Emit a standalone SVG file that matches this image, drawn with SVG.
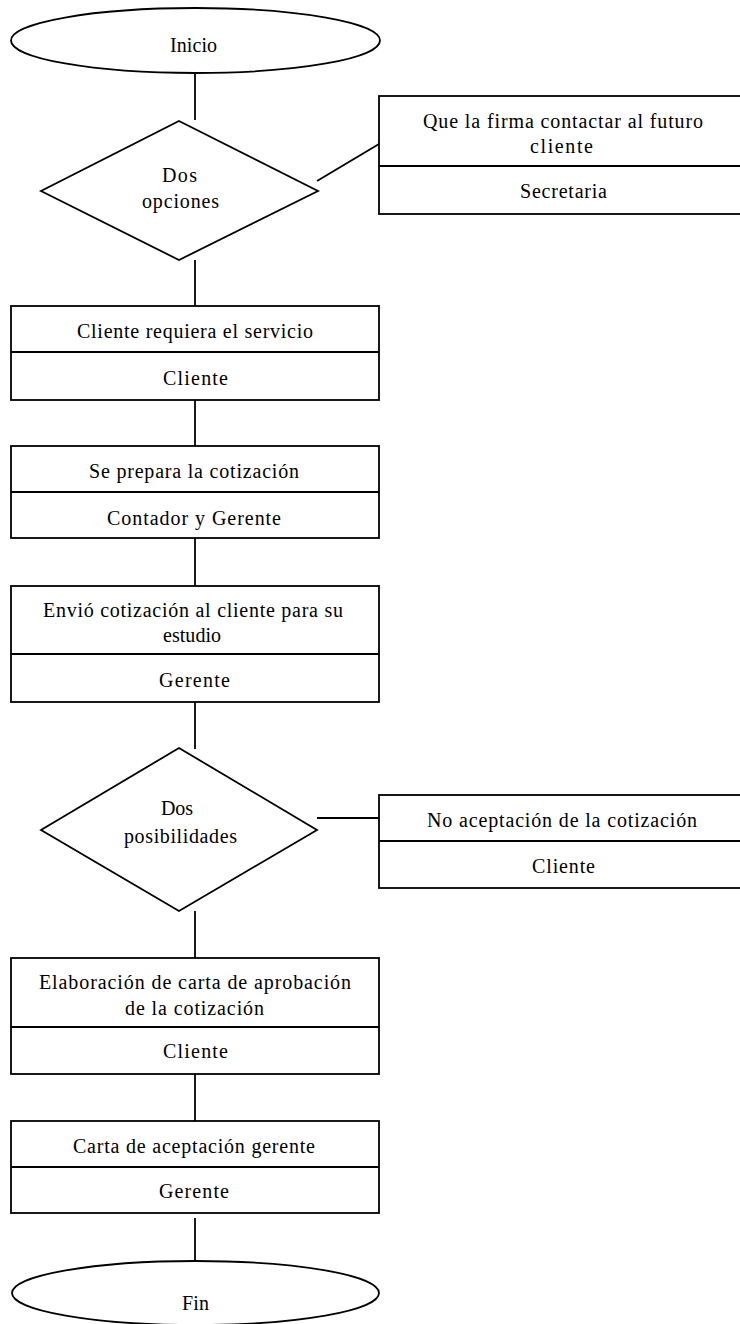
<svg xmlns="http://www.w3.org/2000/svg" width="740" height="1324" viewBox="0 0 740 1324">
<style>
.s{fill:#fff;stroke:#000;stroke-width:1.8}
.l{fill:none;stroke:#000;stroke-width:1.8}
text{font-family:"Liberation Serif","Times New Roman",serif;font-size:20px;fill:#000;text-anchor:middle}
</style>
<rect width="740" height="1324" fill="#fff"/>
<g id="connectors">
<line class="l" x1="195" y1="73" x2="195" y2="120"/>
<line class="l" x1="195" y1="260" x2="195" y2="306"/>
<line class="l" x1="317" y1="181" x2="379" y2="144"/>
<line class="l" x1="195" y1="400" x2="195" y2="446"/>
<line class="l" x1="195" y1="538" x2="195" y2="586"/>
<line class="l" x1="195" y1="702" x2="195" y2="749"/>
<line class="l" x1="317" y1="818" x2="379" y2="818"/>
<line class="l" x1="195" y1="911" x2="195" y2="958"/>
<line class="l" x1="195" y1="1074" x2="195" y2="1125"/>
<line class="l" x1="195" y1="1218" x2="195" y2="1261"/>
</g>
<g id="inicio">
<ellipse class="s" cx="195.5" cy="40.5" rx="184.5" ry="32.5"/>
<text x="193.5" y="52" textLength="47" lengthAdjust="spacing">Inicio</text>
</g>
<g id="decision1">
<polygon class="s" points="179,121 318,191 179,260 41,191"/>
<text x="179.5" y="182" textLength="35" lengthAdjust="spacing">Dos</text>
<text x="180.5" y="208" textLength="77" lengthAdjust="spacing">opciones</text>
</g>
<g id="contactar">
<rect class="s" x="379" y="96" width="400" height="118"/>
<line class="l" x1="379" y1="166" x2="740" y2="166"/>
<text x="563" y="128" textLength="280" lengthAdjust="spacing">Que la firma contactar al futuro</text>
<text x="561.5" y="153" textLength="63" lengthAdjust="spacing">cliente</text>
<text x="563.5" y="198" textLength="87" lengthAdjust="spacing">Secretaria</text>
</g>
<g id="requiere">
<rect class="s" x="11" y="306" width="368" height="94"/>
<line class="l" x1="11" y1="352" x2="379" y2="352"/>
<text x="195" y="338" textLength="236" lengthAdjust="spacing">Cliente requiera el servicio</text>
<text x="195.5" y="385" textLength="65" lengthAdjust="spacing">Cliente</text>
</g>
<g id="prepara">
<rect class="s" x="11" y="446" width="368" height="92"/>
<line class="l" x1="11" y1="492" x2="379" y2="492"/>
<text x="194" y="478" textLength="210" lengthAdjust="spacing">Se prepara la cotización</text>
<text x="194" y="525" textLength="174" lengthAdjust="spacing">Contador y Gerente</text>
</g>
<g id="envio">
<rect class="s" x="11" y="586" width="368" height="116"/>
<line class="l" x1="11" y1="654" x2="379" y2="654"/>
<text x="193" y="617" textLength="300" lengthAdjust="spacing">Envió cotización al cliente para su</text>
<text x="192" y="642" textLength="58" lengthAdjust="spacing">estudio</text>
<text x="194.5" y="687" textLength="71" lengthAdjust="spacing">Gerente</text>
</g>
<g id="decision2">
<polygon class="s" points="179,748 317,830 179,911 41,830"/>
<text x="177" y="815">Dos</text>
<text x="180.5" y="843" textLength="113" lengthAdjust="spacing">posibilidades</text>
</g>
<g id="noacepta">
<rect class="s" x="379" y="795" width="400" height="93"/>
<line class="l" x1="379" y1="841" x2="740" y2="841"/>
<text x="562" y="827" textLength="270" lengthAdjust="spacing">No aceptación de la cotización</text>
<text x="563.5" y="873" textLength="63" lengthAdjust="spacing">Cliente</text>
</g>
<g id="elaboracion">
<rect class="s" x="11" y="958" width="368" height="116"/>
<line class="l" x1="11" y1="1027" x2="379" y2="1027"/>
<text x="195" y="989" textLength="312" lengthAdjust="spacing">Elaboración de carta de aprobación</text>
<text x="194.5" y="1015" textLength="139" lengthAdjust="spacing">de la cotización</text>
<text x="195.5" y="1058" textLength="65" lengthAdjust="spacing">Cliente</text>
</g>
<g id="carta">
<rect class="s" x="11" y="1121" width="368" height="92"/>
<line class="l" x1="11" y1="1167" x2="379" y2="1167"/>
<text x="194" y="1153" textLength="242" lengthAdjust="spacing">Carta de aceptación gerente</text>
<text x="194" y="1198" textLength="70" lengthAdjust="spacing">Gerente</text>
</g>
<g id="fin">
<ellipse class="s" cx="195.5" cy="1293" rx="183.5" ry="32"/>
<text x="195.5" y="1310" textLength="27" lengthAdjust="spacing">Fin</text>
</g>
</svg>
